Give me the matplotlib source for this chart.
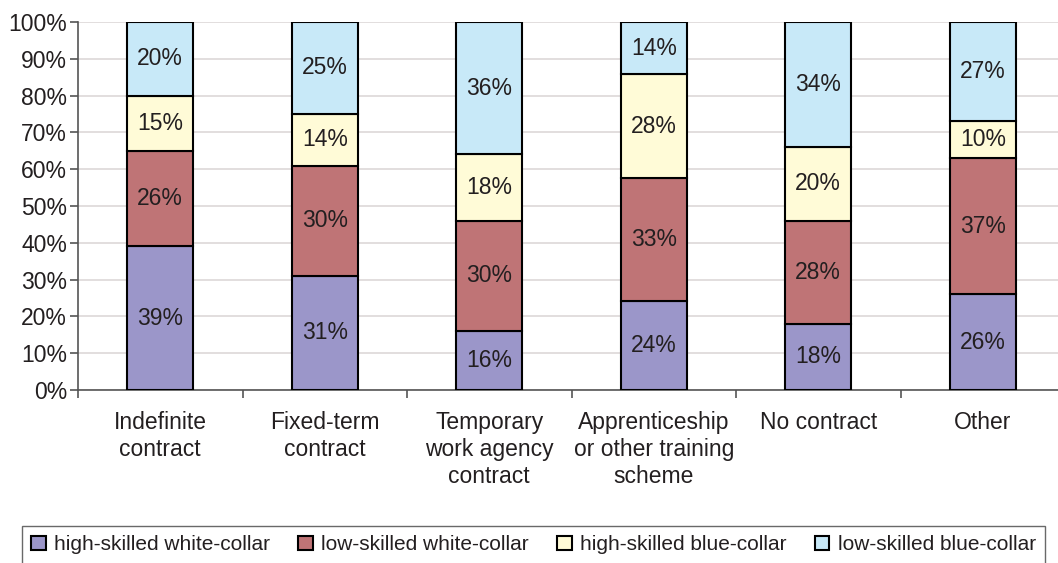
import matplotlib
matplotlib.use("Agg")
import matplotlib.pyplot as plt
import numpy as np

categories = [
    "Indefinite\ncontract",
    "Fixed-term\ncontract",
    "Temporary\nwork agency\ncontract",
    "Apprenticeship\nor other training\nscheme",
    "No contract",
    "Other",
]
series_names = [
    "high-skilled white-collar",
    "low-skilled white-collar",
    "high-skilled blue-collar",
    "low-skilled blue-collar",
]
high_white = [39, 31, 16, 24, 18, 26]
low_white = [26, 30, 30, 33, 28, 37]
high_blue = [15, 14, 18, 28, 20, 10]
low_blue = [20, 25, 36, 14, 34, 27]

colors = ["#9b96c9", "#bf7476", "#fffbd7", "#c8e9f8"]
text_color = "#231f20"

plt.rcParams["font.family"] = ["Liberation Sans", "DejaVu Sans"]

fig = plt.figure(figsize=(10.58, 5.63), dpi=100)
ax = fig.add_axes([78 / 1058, 173 / 563, 987 / 1058, 368 / 563])

data = np.array([high_white, low_white, high_blue, low_blue], dtype=float)
# 100% stacked: each bar is scaled to its own total
shares = data / data.sum(axis=0) * 100

x = np.arange(len(categories)) + 0.5
bottom = np.zeros(len(categories))
for name, vals, labels, col in zip(series_names, shares, data, colors):
    ax.bar(x, vals, 0.4, bottom=bottom, color=col, edgecolor="black",
           linewidth=1.5, label=name, zorder=3)
    for xi, b, v, lab in zip(x, bottom, vals, labels):
        ax.text(xi, b + v / 2, f"{int(lab)}%", ha="center", va="center",
                fontsize=16.5, color=text_color, zorder=4)
    bottom += vals

ax.set_xlim(0, 6)
ax.set_ylim(0, 100)
ax.set_yticks(np.arange(0, 101, 10))
ax.set_yticklabels([f"{v}%" for v in range(0, 101, 10)])
ax.yaxis.grid(True, color="#ddd8d8", linewidth=1.2, zorder=0)

ax.set_xticks(x)
ax.set_xticklabels(categories, linespacing=1.22)
ax.set_xticks(np.arange(0, 7), minor=True)
ax.tick_params(axis="x", which="major", length=0, pad=15, labelsize=16.5, labelcolor=text_color)
ax.tick_params(axis="x", which="minor", length=6, width=1.2, color="#555555", direction="out")
ax.tick_params(axis="y", length=6, width=1.2, color="#555555", pad=2, labelsize=16.5, labelcolor=text_color)

for s in ["top", "right"]:
    ax.spines[s].set_visible(False)
for s in ["left", "bottom"]:
    ax.spines[s].set_color("#555555")
    ax.spines[s].set_linewidth(1.2)

leg = fig.legend(loc="upper left", bbox_to_anchor=(22 / 1058, 37 / 563), ncol=4,
                 fontsize=15, frameon=True, fancybox=False, edgecolor="#444444",
                 handlelength=0.7, handleheight=0.7, handletextpad=0.4,
                 columnspacing=1.35, borderpad=0.45, borderaxespad=0)
leg.get_frame().set_linewidth(1.0)
for t in leg.get_texts():
    t.set_color(text_color)

fig.savefig("out.png", dpi=100)
